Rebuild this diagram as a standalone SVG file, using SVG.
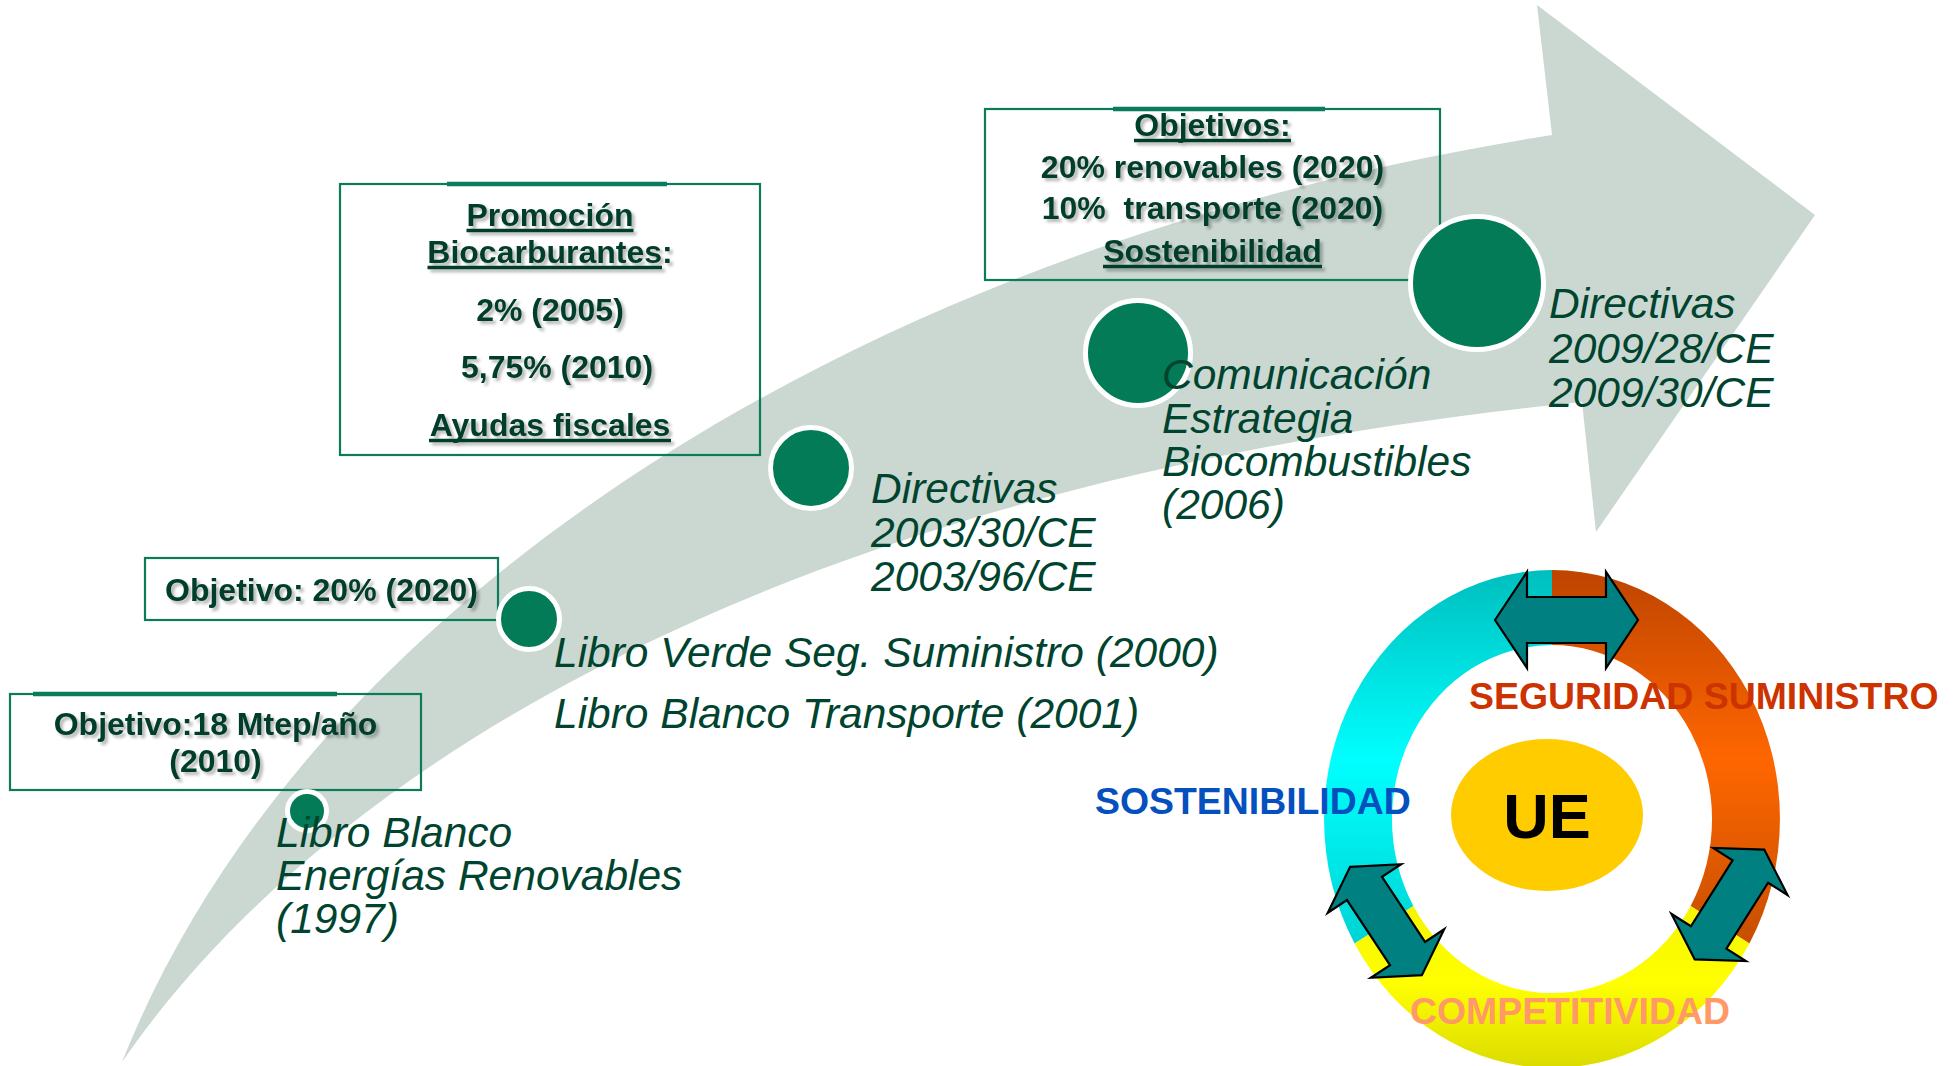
<svg xmlns="http://www.w3.org/2000/svg" width="1960" height="1066" viewBox="0 0 1960 1066">
<defs>
<style>
.box{fill:none;stroke:#0B7B5B;stroke-width:2.2}
.boxtop{stroke:#0B7B5B;stroke-width:4.5}
.bt{font-family:"Liberation Sans",Arial,sans-serif;font-weight:bold;font-size:32px;fill:#003D2B;text-anchor:middle}
.ul{stroke:#003D2B;stroke-width:3.5}
.it{font-family:"Liberation Sans",Arial,sans-serif;font-style:italic;font-size:42.5px;fill:#00442F}
.dot{fill:#037B57;stroke:#FFFFFF;stroke-width:5}
.arr{fill:#008080;stroke:#000;stroke-width:2.2;stroke-linejoin:miter}
.rt{font-family:"Liberation Sans",Arial,sans-serif;font-weight:bold;font-size:37.4px}
</style>
<filter id="sh" x="-10%" y="-30%" width="120%" height="160%">
<feGaussianBlur in="SourceAlpha" stdDeviation="1.4"/>
<feOffset dx="3" dy="3" result="b"/>
<feFlood flood-color="#000" flood-opacity="0.28"/>
<feComposite in2="b" operator="in"/>
<feMerge><feMergeNode/><feMergeNode in="SourceGraphic"/></feMerge>
</filter>
<linearGradient id="gc" gradientUnits="userSpaceOnUse" x1="0" y1="570" x2="0" y2="950">
<stop offset="0" stop-color="#00BEBE"/><stop offset="0.5" stop-color="#00FFFF"/><stop offset="1" stop-color="#00D2D2"/>
</linearGradient>
<linearGradient id="go" gradientUnits="userSpaceOnUse" x1="0" y1="570" x2="0" y2="950">
<stop offset="0" stop-color="#BE4400"/><stop offset="0.5" stop-color="#FF6600"/><stop offset="1" stop-color="#C44E00"/>
</linearGradient>
<linearGradient id="gy" gradientUnits="userSpaceOnUse" x1="0" y1="900" x2="0" y2="1066">
<stop offset="0" stop-color="#F4F400"/><stop offset="0.5" stop-color="#FFFF00"/><stop offset="1" stop-color="#DCDC00"/>
</linearGradient>
</defs>
<rect width="1960" height="1066" fill="#FFFFFF"/>

<g id="timeline-arrow">
<path d="M122,1062 C310,590 880,240 1552,135 L1537,5 L1815,215 L1596,532 L1582,402 C800,480 330,760 122,1062 Z" fill="#CAD8D1"/>
</g>

<g id="box-objetivo-18">
<rect class="box" x="10" y="694" width="411" height="96"/>
<line class="boxtop" x1="33" y1="694" x2="337" y2="694"/>
<g filter="url(#sh)">
<text class="bt" x="215.5" y="735">Objetivo:18 Mtep/año</text>
<text class="bt" x="215.5" y="772">(2010)</text>
</g>
</g>

<g id="box-objetivo-20">
<rect class="box" x="145" y="558" width="353" height="62"/>
<g filter="url(#sh)">
<text class="bt" x="321.5" y="601">Objetivo: 20% (2020)</text>
</g>
</g>

<g id="box-promocion">
<rect class="box" x="340" y="184" width="420" height="271"/>
<line class="boxtop" x1="447" y1="184" x2="667" y2="184"/>
<g filter="url(#sh)">
<text class="bt" x="550" y="226">Promoción</text>
<line class="ul" x1="466.5" y1="230.5" x2="633.5" y2="230.5"/>
<text class="bt" x="550" y="263">Biocarburantes:</text>
<line class="ul" x1="427.5" y1="267.5" x2="662" y2="267.5"/>
<text class="bt" x="550" y="321">2% (2005)</text>
<text class="bt" x="557" y="378">5,75% (2010)</text>
<text class="bt" x="550" y="436">Ayudas fiscales</text>
<line class="ul" x1="429" y1="440.5" x2="671" y2="440.5"/>
</g>
</g>

<g id="box-objetivos">
<rect class="box" x="985" y="109" width="455" height="171"/>
<line class="boxtop" x1="1113" y1="109" x2="1325" y2="109"/>
<g filter="url(#sh)">
<text class="bt" x="1212.5" y="136">Objetivos:</text>
<line class="ul" x1="1134" y1="140.5" x2="1291" y2="140.5"/>
<text class="bt" x="1212.5" y="178">20% renovables (2020)</text>
<text class="bt" x="1212.5" y="219" xml:space="preserve">10%  transporte (2020)</text>
<text class="bt" x="1212.5" y="262">Sostenibilidad</text>
<line class="ul" x1="1103" y1="266.5" x2="1322" y2="266.5"/>
</g>
</g>

<g id="event-1997">
<circle class="dot" cx="307" cy="811" r="19.5"/>
<text class="it" x="276" y="847">Libro Blanco</text>
<text class="it" x="276" y="890">Energías Renovables</text>
<text class="it" x="276" y="933">(1997)</text>
</g>

<g id="event-2000">
<circle class="dot" cx="529" cy="619" r="30.5"/>
<text class="it" x="554" y="667">Libro Verde Seg. Suministro (2000)</text>
<text class="it" x="554" y="728">Libro Blanco Transporte (2001)</text>
</g>

<g id="event-2003">
<circle class="dot" cx="811" cy="468" r="40.5"/>
<text class="it" x="871" y="503">Directivas</text>
<text class="it" x="871" y="547">2003/30/CE</text>
<text class="it" x="871" y="591">2003/96/CE</text>
</g>

<g id="event-2006">
<circle class="dot" cx="1138" cy="353" r="52.5"/>
<text class="it" x="1162" y="389">Comunicación</text>
<text class="it" x="1162" y="433">Estrategia</text>
<text class="it" x="1162" y="476">Biocombustibles</text>
<text class="it" x="1162" y="519">(2006)</text>
</g>

<g id="event-2009">
<circle class="dot" cx="1477" cy="283" r="66.5"/>
<text class="it" x="1549" y="318">Directivas</text>
<text class="it" x="1549" y="363">2009/28/CE</text>
<text class="it" x="1549" y="407">2009/30/CE</text>
</g>

<g id="ring">
<path d="M1552,570 A228,249 0 0 0 1354.6,943.5 L1413.4,906 A160,174 0 0 1 1552,645 Z" fill="url(#gc)"/>
<path d="M1552,570 A228,249 0 0 1 1749.4,943.5 L1690.6,906 A160,174 0 0 0 1552,645 Z" fill="url(#go)"/>
<path d="M1749.4,943.5 A228,249 0 0 1 1354.6,943.5 L1413.4,906 A160,174 0 0 0 1690.6,906 Z" fill="url(#gy)"/>
</g>

<g id="connectors">
<path class="arr" transform="translate(1566.5,620)" d="M-71.5,0 L-39.5,-48 L-39.5,-23 L39.5,-23 L39.5,-48 L71.5,0 L39.5,48 L39.5,23 L-39.5,23 L-39.5,48 Z"/>
<path class="arr" transform="translate(1386,921) rotate(56.5)" d="M-65,0 L-39,-44 L-39,-21 L39,-21 L39,-44 L65,0 L39,44 L39,21 L-39,21 L-39,44 Z"/>
<path class="arr" transform="translate(1729.5,904.5) rotate(-57.7)" d="M-65,0 L-39,-44 L-39,-21 L39,-21 L39,-44 L65,0 L39,44 L39,21 L-39,21 L-39,44 Z"/>
</g>

<g id="node-ue">
<ellipse cx="1547" cy="815" rx="96" ry="76" fill="#FFCC00"/>
<text x="1547" y="838" font-family="'Liberation Sans',Arial,sans-serif" font-weight="bold" font-size="63" fill="#000" text-anchor="middle">UE</text>
</g>

<g id="label-seguridad">
<text class="rt" x="1469" y="709" fill="#CC3300">SEGURIDAD SUMINISTRO</text>
</g>
<g id="label-sostenibilidad">
<text class="rt" x="1095" y="814" fill="#0450BE">SOSTENIBILIDAD</text>
</g>
<g id="label-competitividad">
<text class="rt" x="1410" y="1024" fill="#FF9966">COMPETITIVIDAD</text>
</g>
</svg>
